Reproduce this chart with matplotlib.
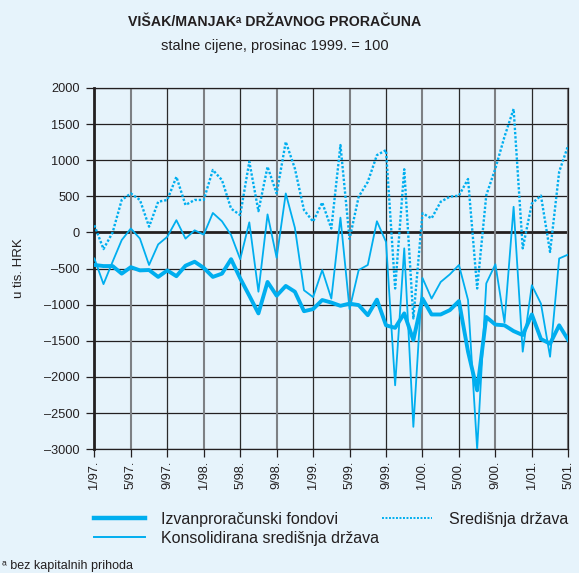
import matplotlib.pyplot as plt
from matplotlib.lines import Line2D

plt.rcParams['font.family'] = ['Liberation Sans', 'DejaVu Sans']

BG = '#e6f3fb'
INK = '#231f20'
BLUE = '#00aeef'

# monthly labels, 1/97 .. 5/01
months = [f"{m}/{y:02d}." for y in (97, 98, 99, 0, 1) for m in range(1, 13)][:53]
tick_labels = months[::4]

# thousands of HRK, constant prices (Dec 1999 = 100)
izvanproracunski = [
    -450, -465, -465, -570, -480, -525, -520, -615, -525, -605,
    -460, -405, -490, -615, -570, -370, -635, -875, -1120, -685,
    -875, -740, -820, -1090, -1060, -935, -970, -1015, -985, -1005,
    -1145, -930, -1285, -1320, -1120, -1490, -915, -1135, -1135, -1075,
    -950, -1650, -2185, -1170, -1275, -1285, -1365, -1420, -1135, -1475,
    -1540, -1285, -1490,
]
konsolidirana = [
    -360, -715, -405, -105, 55, -85, -450, -165, -60, 170,
    -85, 30, -30, 270, 155, -35, -370, 140, -820, 250,
    -350, 540, 65, -800, -895, -520, -915, 205, -1060, -520,
    -450, 155, -130, -2115, -220, -2690, -630, -915, -685, -580,
    -450, -935, -3000, -705, -440, -1245, 355, -1650, -730, -985,
    -1720, -360, -305,
]
sredisnja = [
    100, -230, 0, 450, 540, 450, 80, 425, 450, 770,
    380, 450, 450, 865, 725, 330, 240, 980, 295, 910,
    540, 1255, 885, 310, 150, 415, 55, 1210, -90, 495,
    700, 1070, 1140, -775, 875, -1190, 265, 195, 425, 495,
    510, 740, -775, 515, 885, 1325, 1710, -220, 400, 510,
    -270, 840, 1210,
]

x = list(range(len(months)))

fig = plt.figure(figsize=(5.79, 5.73), dpi=100, facecolor=BG)
ax = fig.add_axes([0.163, 0.216, 0.8185, 0.6305], facecolor=BG)

# grid: horizontal every 500, vertical at every labelled month
for v in range(-3000, 2001, 500):
    ax.axhline(v, color=INK, lw=2.0 if v == 0 else 0.9, zorder=1)
for k, t in enumerate(range(0, 53, 4)):
    if k % 2 == 0:
        ax.axvline(t, color='#2a2a2a', lw=0.9, zorder=1)
    else:
        ax.axvline(t, color='#7d8084', lw=1.5, zorder=1)

ax.plot(x, sredisnja, color=BLUE, lw=1.7, linestyle=(0, (1, 0.8)), zorder=3)
ax.plot(x, konsolidirana, color=BLUE, lw=1.3, zorder=3)
ax.plot(x, izvanproracunski, color=BLUE, lw=2.8, zorder=4,
        solid_joinstyle='round')

ax.set_xlim(0, 52)
ax.set_ylim(-3000, 2000)
ax.set_yticks(range(-3000, 2001, 500))
ax.set_yticklabels([str(v).replace('-', '\u2013') for v in range(-3000, 2001, 500)])
ax.set_xticks(range(0, 53, 4))
ax.set_xticklabels(tick_labels, rotation=90)
ax.tick_params(axis='both', colors=INK, labelsize=9.2, width=0.9)
ax.tick_params(axis='y', length=6, pad=4.5)
ax.tick_params(axis='x', length=5.5, pad=2.5)
for s in ('top', 'right', 'bottom'):
    ax.spines[s].set_color(INK)
    ax.spines[s].set_linewidth(0.9)
ax.spines['left'].set_color(INK)
ax.spines['left'].set_linewidth(2.0)

ax.set_ylabel('u tis. HRK', fontsize=9.5, color=INK)
ax.yaxis.set_label_coords(-0.147, 0.5)

fig.text(0.475, 0.962, 'VIŠAK/MANJAK\u1d43 DRŽAVNOG PRORAČUNA', ha='center',
         va='center', fontsize=10.2, fontweight='bold', color=INK)
fig.text(0.475, 0.92, 'stalne cijene, prosinac 1999. = 100', ha='center',
         va='center', fontsize=10.5, color=INK)

handles = [
    Line2D([], [], color=BLUE, lw=3.2),
    Line2D([], [], color=BLUE, lw=1.4),
    Line2D([], [], color=BLUE, lw=1.4, linestyle=(0, (1, 0.8))),
]
labels = ['Izvanproračunski fondovi', 'Konsolidirana središnja država',
          'Središnja država']
fig.legend(handles, labels, ncol=2, loc='upper left',
           bbox_to_anchor=(0.152, 0.118), frameon=False, fontsize=11.5,
           handlelength=3.15, handletextpad=1.05, columnspacing=0.15,
           labelspacing=0.25, labelcolor=INK, borderaxespad=0)

fig.text(0.004, 0.007, '\u1d43 bez kapitalnih prihoda', fontsize=9,
         color=INK, va='baseline')

fig.savefig('out.png', dpi=100, facecolor=BG)
